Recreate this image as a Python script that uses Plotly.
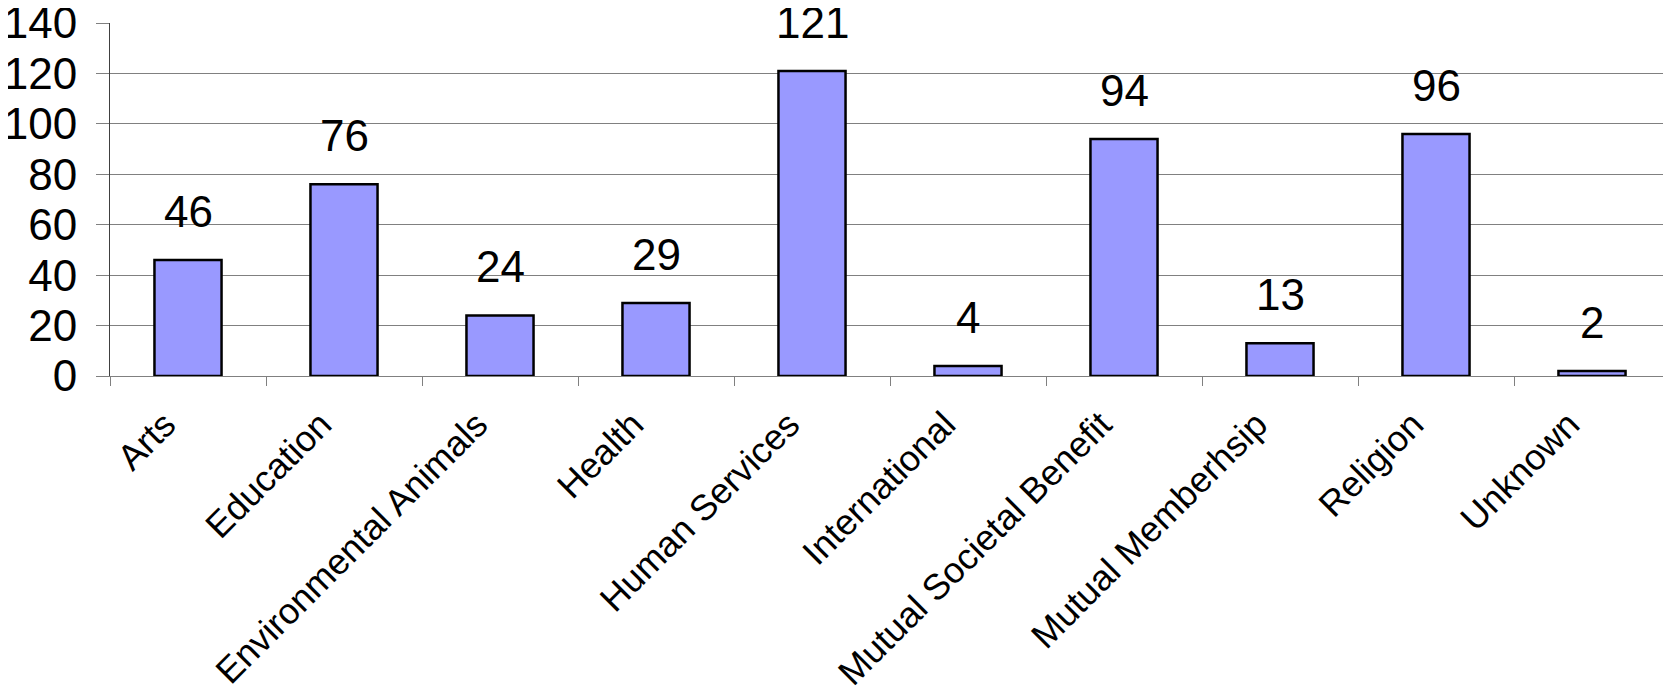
import plotly.graph_objects as go

categories = ["Arts", "Education", "Environmental Animals", "Health", "Human Services",
              "International", "Mutual Societal Benefit", "Mutual Memberhsip", "Religion", "Unknown"]
values = [46, 76, 24, 29, 121, 4, 94, 13, 96, 2]
y_ticks = [0, 20, 40, 60, 80, 100, 120, 140]

FONT = "Liberation Sans, Arial, sans-serif"

fig = go.Figure()
fig.add_trace(go.Bar(
    x=categories, y=values,
    marker=dict(color="#9999FF", line=dict(color="black", width=2.5)),
    hoverinfo="x+y",
))

for c, v in zip(categories, values):
    fig.add_annotation(x=c, y=v, text=str(v), showarrow=False, yanchor="bottom",
                       yshift=22, font=dict(family=FONT, size=44, color="black"))

# page body has an 8px default margin; compensate so the plot lands where the reference has it
fig.update_layout(
    width=1663, height=680,
    margin=dict(l=102, r=1, t=15, b=312, autoexpand=False),
    plot_bgcolor="white", paper_bgcolor="white",
    bargap=0.57, showlegend=False,
    font=dict(family=FONT, color="black"),
)
fig.update_xaxes(
    type="category", tickangle=-45, tickson="boundaries",
    ticks="outside", ticklen=9, tickcolor="#808080",
    showline=True, linecolor="#808080", linewidth=1,
    showgrid=False, tickfont=dict(family=FONT, size=36, color="black"),
    ticklabelshift=-23, ticklabelstandoff=12, automargin=False,
    ticklabeloverflow="allow",
)
fig.update_yaxes(
    range=[0, 140], tickvals=y_ticks, ticktext=[str(t) for t in y_ticks],
    ticks="outside", ticklen=13, tickcolor="#808080",
    showline=True, linecolor="#404040", linewidth=1,
    showgrid=True, gridcolor="#808080", gridwidth=1,
    tickfont=dict(family=FONT, size=44, color="black"),
    ticklabelstandoff=10, zeroline=False, automargin=False,
    ticklabeloverflow="allow",
)

fig.write_html("out.html")
